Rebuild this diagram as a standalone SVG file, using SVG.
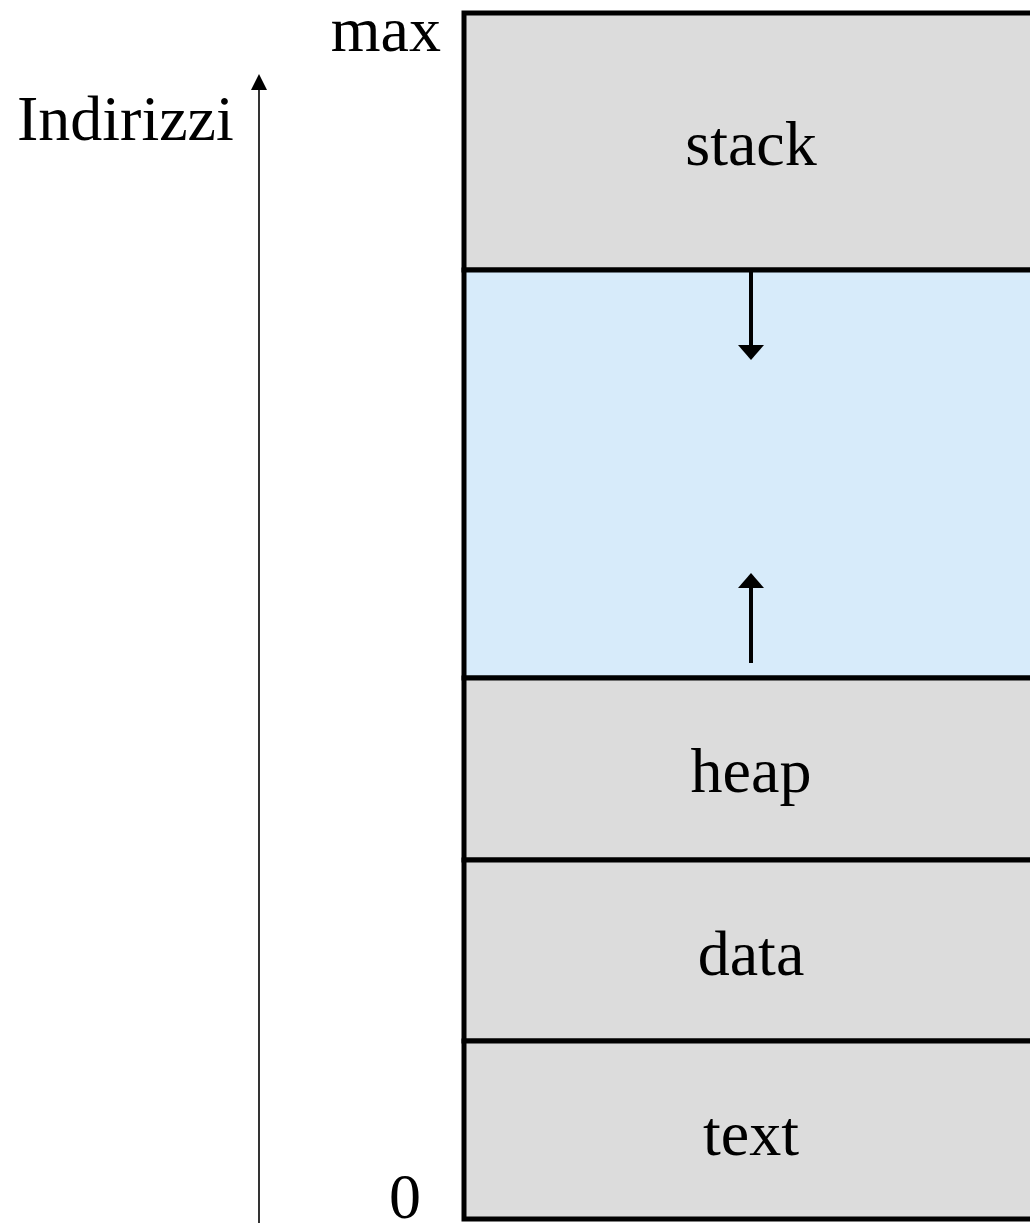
<svg xmlns="http://www.w3.org/2000/svg" width="1030" height="1223" viewBox="0 0 1030 1223">
  <style>
    .lbl { font-family: "Liberation Serif", "Times New Roman", serif; font-size: 64px; fill: #000; }
    .seg { fill: #dcdcdc; stroke: #000; stroke-width: 5; }
    .free { fill: #d7ebfa; stroke: #000; stroke-width: 5; }
    .grow { stroke: #000; stroke-width: 4; fill: none; }
    .axis { stroke: #000; stroke-width: 1.6; fill: none; }
    .head { fill: #000; }
  </style>

  <!-- address axis -->
  <g id="axis">
    <line class="axis" x1="259" y1="1223" x2="259" y2="90"/>
    <path class="head" d="M259,74 L267,90 L251,90 Z"/>
    <text class="lbl" x="17" y="140" font-size="63">Indirizzi</text>
    <text class="lbl" x="441" y="51" text-anchor="end">max</text>
    <text class="lbl" x="405" y="1218" text-anchor="middle">0</text>
  </g>

  <!-- memory segments -->
  <g id="stack">
    <rect class="seg" x="464" y="13" width="600" height="257"/>
    <text class="lbl" x="751" y="165" text-anchor="middle">stack</text>
  </g>
  <g id="free">
    <rect class="free" x="464" y="270" width="600" height="408"/>
  </g>
  <g id="heap">
    <rect class="seg" x="464" y="678" width="600" height="182"/>
    <text class="lbl" x="751" y="792" text-anchor="middle">heap</text>
  </g>
  <g id="data">
    <rect class="seg" x="464" y="860" width="600" height="181"/>
    <text class="lbl" x="751" y="975" text-anchor="middle">data</text>
  </g>
  <g id="text">
    <rect class="seg" x="464" y="1041" width="600" height="178"/>
    <text class="lbl" x="751" y="1155" text-anchor="middle">text</text>
  </g>

  <!-- growth directions of stack and heap -->
  <g id="connectors">
    <line class="grow" x1="751" y1="272" x2="751" y2="346"/>
    <path class="head" d="M738,345 L764,345 L751,360 Z"/>
    <line class="grow" x1="751" y1="663" x2="751" y2="587"/>
    <path class="head" d="M738,588 L764,588 L751,573 Z"/>
  </g>
</svg>
